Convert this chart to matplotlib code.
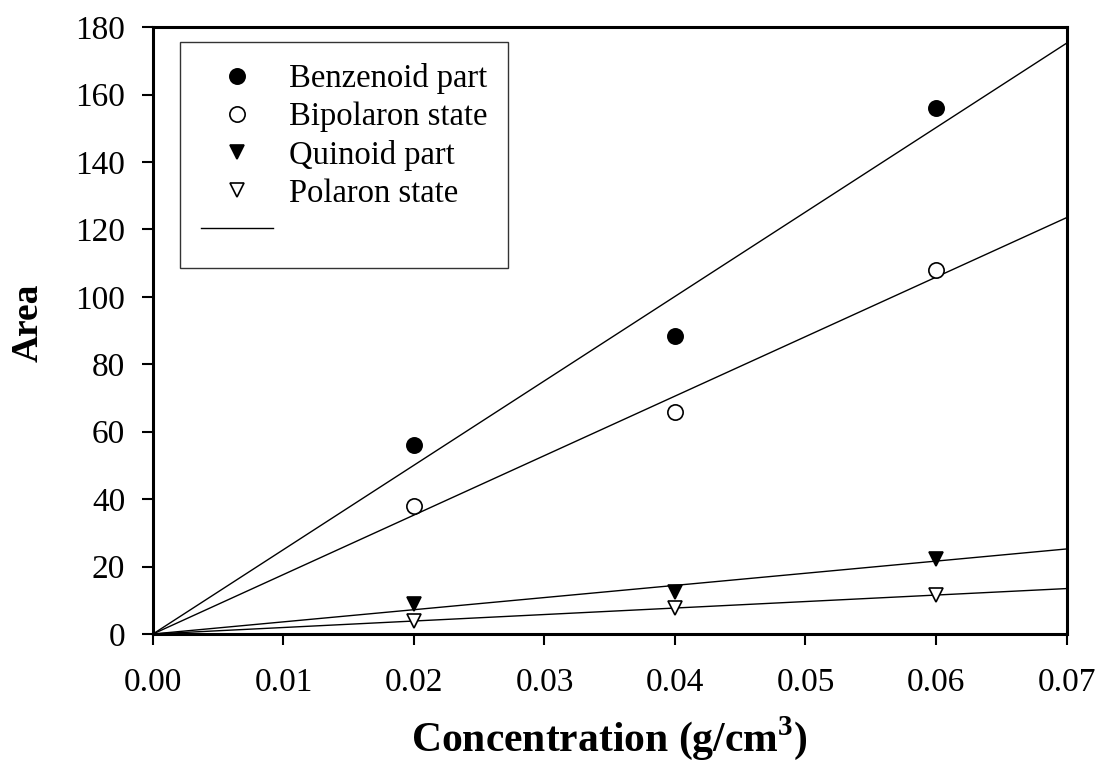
import numpy as np
import matplotlib
matplotlib.use('Agg')
import matplotlib.pyplot as plt
from matplotlib.lines import Line2D

plt.rcParams['font.family'] = ['Liberation Serif', 'DejaVu Serif']
plt.rcParams['mathtext.fontset'] = 'custom'
plt.rcParams['mathtext.rm'] = 'Liberation Serif'
plt.rcParams['mathtext.bf'] = 'Liberation Serif:bold'

# 数据
conc = [0.02, 0.04, 0.06]
benzenoid = [56, 88.5, 156]
bipolaron = [38, 66, 108]
quinoid = [8.8, 12.6, 22.3]
polaron = [3.8, 7.8, 11.5]

labels = ['Benzenoid part', 'Bipolaron state', 'Quinoid part', 'Polaron state']
markers = ['o', 'o', 'v', 'v']
faces = ['black', 'white', 'black', 'white']
msizes = [11, 11, 10, 10]

fig = plt.figure(figsize=(11.02, 7.71), dpi=100)
ax = fig.add_axes([0.1388, 0.1777, 0.8290, 0.787])

x = np.array(conc)
xfit = np.array([0.0, 0.07])
for ys, m, fc, ms in zip([benzenoid, bipolaron, quinoid, polaron], markers, faces, msizes):
    ys = np.array(ys)
    k = np.sum(x * ys) / np.sum(x * x)   # 过原点的线性拟合
    ax.plot(xfit, k * xfit, color='black', lw=1.0, zorder=2)
    ax.plot(x, ys, ls='none', marker=m, ms=ms, mfc=fc, mec='black', mew=1.2, zorder=3)

ax.set_xlim(0, 0.07)
ax.set_ylim(0, 180)
ax.set_xticks(np.arange(0, 0.0701, 0.01))
ax.set_xticklabels(['%.2f' % v for v in np.arange(0, 0.0701, 0.01)])
ax.set_yticks(np.arange(0, 181, 20))
ax.tick_params(direction='out', length=8, width=1.5, labelsize=24, pad=12)
ax.tick_params(axis='x', pad=16)
for s in ax.spines.values():
    s.set_linewidth(2.2)

ax.set_xlabel('Concentration (g/cm$^{\\mathbf{3}}$)', fontsize=30, fontweight='bold', labelpad=12)
ax.set_ylabel('Area', fontsize=27, fontweight='bold')
ax.yaxis.set_label_coords(-0.117, 0.513)

handles = [Line2D([], [], ls='none', marker=m, ms=ms, mfc=fc, mec='black', mew=1.2)
           for m, fc, ms in zip(markers, faces, msizes)]
handles.append(Line2D([], [], color='black', lw=1.0))
leg = ax.legend(handles, labels + [''], loc='upper left', bbox_to_anchor=(0.0295, 0.975),
                fontsize=23.5, frameon=True, fancybox=False, edgecolor='black',
                handlelength=2.2, handletextpad=0.5, labelspacing=0.23,
                borderpad=0.64, borderaxespad=0)
leg.get_frame().set_linewidth(1.0)

plt.savefig('out.png', dpi=100)
